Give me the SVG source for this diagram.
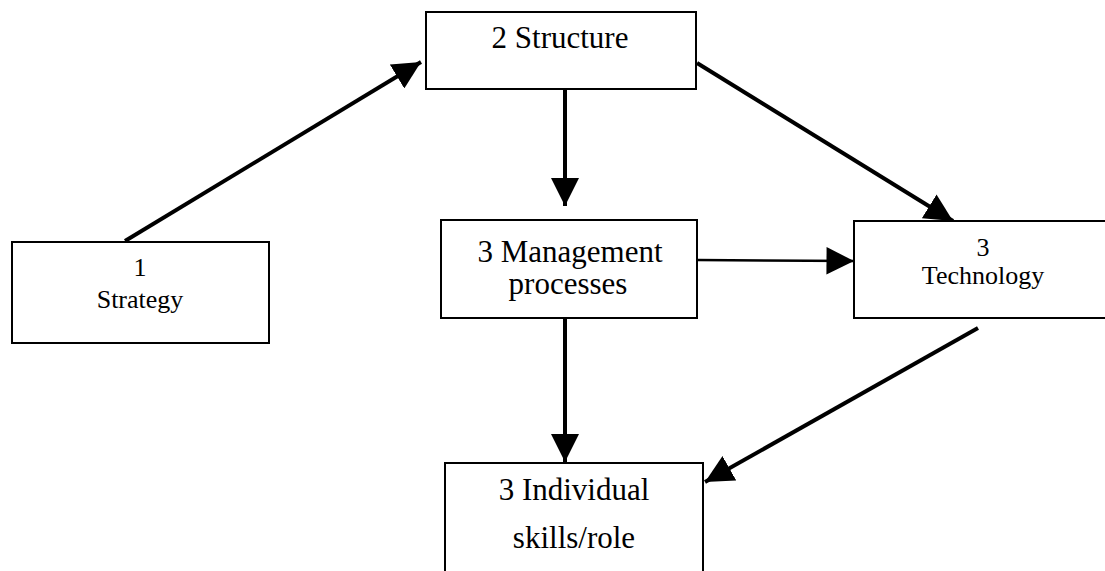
<svg xmlns="http://www.w3.org/2000/svg" width="1105" height="571" viewBox="0 0 1105 571">
<style>
.box{fill:#fff;stroke:#000;stroke-width:2}
.big{font-family:"Liberation Serif","Times New Roman",serif;font-size:31px;fill:#000;text-anchor:middle}
.small{font-family:"Liberation Serif","Times New Roman",serif;font-size:26px;fill:#000;text-anchor:middle}
.con{stroke:#000;stroke-width:4;fill:none}
</style>
<defs>
<marker id="ah" viewBox="0 0 10 10" refX="10" refY="5" markerWidth="7" markerHeight="7" markerUnits="strokeWidth" orient="auto">
<path d="M0,0 L10,5 L0,10 Z" fill="#000"/>
</marker>
<marker id="ah2" viewBox="0 0 10 10" refX="10" refY="5" markerWidth="12" markerHeight="11" markerUnits="strokeWidth" orient="auto">
<path d="M0,0 L10,5 L0,10 Z" fill="#000"/>
</marker>
</defs>
<g id="connectors">
<line class="con" x1="125" y1="241" x2="421" y2="62" marker-end="url(#ah)"/>
<line class="con" x1="565" y1="89" x2="565" y2="206" marker-end="url(#ah)"/>
<line class="con" x1="697" y1="63" x2="953" y2="221" marker-end="url(#ah)"/>
<line class="con" style="stroke-width:2.5" x1="697" y1="260" x2="854" y2="261" marker-end="url(#ah2)"/>
<line class="con" x1="565" y1="318" x2="565" y2="462" marker-end="url(#ah)"/>
<line class="con" x1="978" y1="328" x2="705" y2="482" marker-end="url(#ah)"/>
</g>
<g id="strategy">
<rect class="box" x="12" y="242" width="257" height="101"/>
<text class="small" x="140" y="276">1</text>
<text class="small" x="140" y="308">Strategy</text>
</g>
<g id="structure">
<rect class="box" x="426" y="12" width="270" height="77"/>
<text class="big" x="560" y="48">2 Structure</text>
</g>
<g id="management">
<rect class="box" x="441" y="220" width="256" height="98"/>
<text class="big" x="570" y="262">3 Management</text>
<text class="big" x="568" y="294">processes</text>
</g>
<g id="technology">
<rect class="box" x="854" y="221" width="252" height="97"/>
<text class="small" x="983" y="256">3</text>
<text class="small" x="983" y="284">Technology</text>
</g>
<g id="individual">
<rect class="box" x="445" y="463" width="258" height="120"/>
<text class="big" x="574" y="500">3 Individual</text>
<text class="big" x="574" y="548">skills/role</text>
</g>
</svg>
